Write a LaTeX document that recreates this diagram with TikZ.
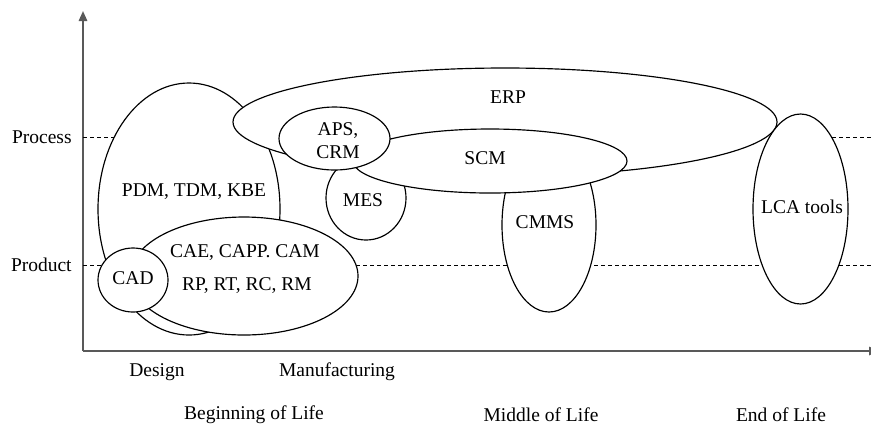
\documentclass[tikz,border=0pt]{standalone}
\usepackage{fontspec}
\setmainfont{Liberation Serif}
\usetikzlibrary{shapes.geometric, arrows.meta, positioning}
\newcommand{\lblfont}{\fontsize{11.7pt}{14pt}\selectfont}

\begin{document}
\begin{tikzpicture}[x=0.6pt, y=-0.6pt]
        % Styles
        \tikzstyle{blob}=[ellipse, draw, fill=white, line width=0.7pt, inner sep=0pt]
        \tikzstyle{lbl}=[font=\lblfont, inner sep=0pt]
        \tikzstyle{axisline}=[line width=1.2pt, black!65]
        \tikzstyle{guide}=[dash pattern=on 2.4pt off 1.8pt, line width=0.5pt]

        \useasboundingbox (0,0) rectangle (871,427);

        % Axes
        \coordinate (origin) at (83,351);
        \coordinate (ytop) at (83,11);
        \coordinate (xend) at (879,351);
        \draw[axisline, -{Triangle[width=5pt,length=6pt]}] (origin) -- (ytop);
        \draw[axisline, -{Triangle[width=5pt,length=6pt]}] (origin) -- (xend);

        % Process / Product levels
        \coordinate (procL) at (83,137);
        \coordinate (procR) at (871,137);
        \coordinate (prodL) at (83,265);
        \coordinate (prodR) at (871,265);
        \draw[guide] (procL) -- (procR);
        \draw[guide] (prodL) -- (prodR);
        \node[lbl, left=6.6pt of procL] (process) {Process};
        \node[lbl, left=6.6pt of prodL] (product) {Product};

        % Tool areas (later ones lie on top)
        \node[blob, minimum width=109.2pt, minimum height=151.2pt] (pdm) at (189,209) {};
        \node[blob, minimum width=56.4pt, minimum height=104.4pt] (cmms) at (549,225) {};
        \node[blob, minimum width=48pt, minimum height=50.4pt] (mes) at (366,198) {};
        \node[blob, minimum width=326.4pt, minimum height=64.8pt] (erp) at (505,122) {};
        \node[blob, minimum width=164.4pt, minimum height=38.4pt] (scm) at (490,161) {};
        \node[blob, minimum width=66.6pt, minimum height=37.8pt] (aps) at (334.5,138.5) {};
        \node[blob, minimum width=57pt, minimum height=114pt] (lca) at (800.5,209) {};
        \node[blob, minimum width=136.8pt, minimum height=70.8pt] (cae) at (244,276) {};
        \node[blob, minimum width=42pt, minimum height=38.4pt] (cad) at (133,280) {};

        % Labels
        \node[lbl] (pdm-t) at (194,192) {PDM, TDM, KBE};
        \node[lbl] (cmms-t) at (545,222) {CMMS};
        \node[lbl] (mes-t) at (363,200) {MES};
        \node[lbl] (erp-t) at (508,97) {ERP};
        \node[lbl] (scm-t) at (485,158) {SCM};
        \node[lbl, align=center] (aps-t) at (338,140.5) {APS,\\CRM};
        \node[lbl] (lca-t) at (802,207) {LCA tools};
        \node[lbl] (cae-t) at (245,253) {CAE, CAPP. CAM};
        \node[lbl] (rp-t) at (247,286) {RP, RT, RC, RM};
        \node[lbl] (cad-t) at (133,278) {CAD};

        % Life phases
        \node[lbl] (design) at (157,372) {Design};
        \node[lbl] (manuf) at (337,372) {Manufacturing};
        \node[lbl] (bol) at (254,415) {Beginning of Life};
        \node[lbl] (mol) at (541,415) {Middle of Life};
        \node[lbl] (eol) at (781,415) {End of Life};
\end{tikzpicture}
\end{document}
